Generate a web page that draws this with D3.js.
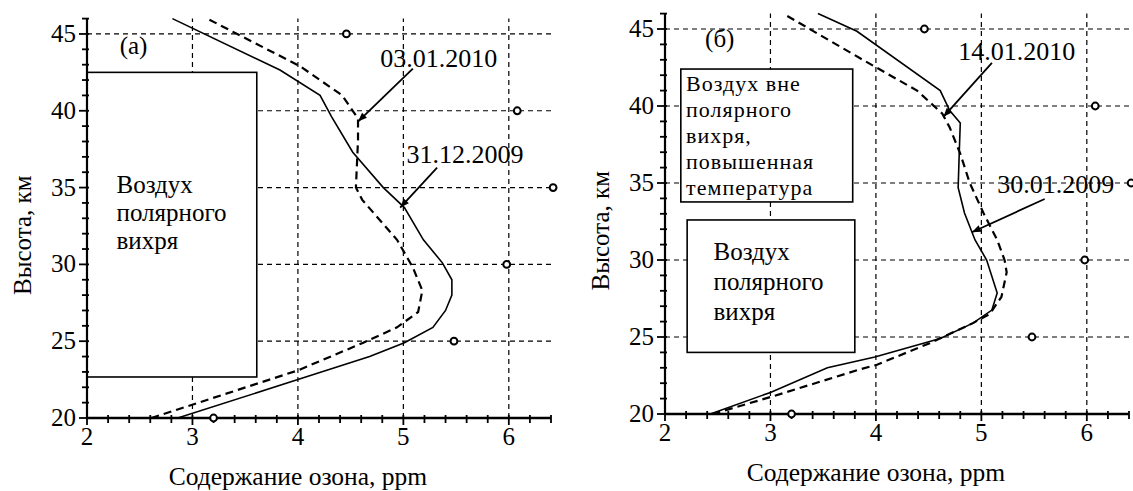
<!DOCTYPE html>
<html><head><meta charset="utf-8">
<script src="https://cdn.jsdelivr.net/npm/d3@7"></script>
<style>
html,body{margin:0;padding:0;background:#fff;}
svg{display:block;}
</style></head>
<body>
<svg id="c" width="1133" height="491"></svg>
<script>
// ---------- data ----------
const xTicks = [2, 3, 4, 5, 6];
const yTicks = [20, 25, 30, 35, 40, 45];
const xTitle = "Содержание озона, ppm";
const yTitle = "Высота, км";

// climatology points (open circles), same in both panels
const climO3 = [3.2, 5.48, 5.98, 6.42, 6.08, 4.46];
const climH  = [20, 25, 30, 35, 40, 45];

// panel (а)
const a_solidO3 = [2.86, 4.0, 4.68, 5.01, 5.28, 5.40, 5.46, 5.46, 5.37, 5.19, 5.01, 4.81, 4.52, 4.32, 4.21, 3.83, 2.81];
const a_solidH  = [20, 22.5, 24.0, 24.9, 25.9, 27.0, 28.0, 29.0, 30.1, 31.6, 33.7, 35.0, 37.3, 39.6, 41.0, 42.65, 46];
const a_dashO3  = [2.61, 4.0, 4.62, 4.94, 5.14, 5.18, 5.09, 4.94, 4.61, 4.55, 4.57, 4.57, 4.42, 4.02, 3.14];
const a_dashH   = [20, 23.1, 24.9, 25.9, 26.9, 28.3, 29.8, 31.6, 34.2, 35.0, 38.1, 39.5, 41.0, 42.9, 46];

// panel (б)
const b_solidO3 = [2.43, 3.0, 3.54, 3.99, 4.61, 4.92, 5.10, 5.15, 5.05, 4.94, 4.84, 4.78, 4.79, 4.80, 4.70, 4.61, 3.82, 3.45];
const b_solidH  = [20, 21.4, 23.0, 23.7, 24.9, 25.9, 26.75, 27.85, 30.0, 31.3, 33.05, 34.7, 36.9, 38.9, 39.7, 41.0, 44.85, 46];
const b_dashO3  = [2.45, 3.0, 3.85, 4.01, 4.51, 4.92, 5.08, 5.19, 5.24, 5.22, 5.15, 5.02, 4.89, 4.80, 4.70, 4.63, 4.39, 3.85, 3.12];
const b_dashH   = [20, 21.1, 22.9, 23.2, 24.6, 25.9, 26.5, 27.6, 29.2, 30.0, 31.3, 33.05, 35.0, 36.9, 38.6, 39.5, 41.0, 43.1, 46];

// ---------- drawing ----------
const svg = d3.select("#c");
const FONT = "Liberation Serif";

function drawPanel(cfg) {
  const x = d3.scaleLinear().domain([2, 6.4]).range(cfg.xr);
  const y = d3.scaleLinear().domain([20, 46]).range(cfg.yr);
  const g = svg.append("g");
  const X0 = x(2), X1 = x(6.4), Y0 = y(20), Y1 = y(46);
  const txt = (sel) => sel.append("text").attr("font-family", FONT).attr("fill", "#000");

  // grid
  g.selectAll(".gx").data(xTicks.filter(t => t > 2)).join("line")
    .attr("x1", d => x(d)).attr("x2", d => x(d)).attr("y1", Y0).attr("y2", Y1)
    .attr("stroke", "#000").attr("stroke-width", 1.2).attr("stroke-dasharray", "5,4");
  g.selectAll(".gy").data(yTicks.filter(t => t > 20)).join("line")
    .attr("y1", d => y(d)).attr("y2", d => y(d)).attr("x1", X0).attr("x2", X1)
    .attr("stroke", "#000").attr("stroke-width", 1.2).attr("stroke-dasharray", "5,4");

  // boxes
  cfg.boxes.forEach(b => {
    g.append("rect")
      .attr("x", x(b.v0)).attr("y", y(b.h0))
      .attr("width", x(b.v1) - x(b.v0)).attr("height", y(b.h1) - y(b.h0))
      .attr("fill", "#fff").attr("stroke", "#000").attr("stroke-width", 1.6);
    const t = txt(g).attr("font-size", b.fs).attr("letter-spacing", b.ls || 0);
    b.lines.forEach((ln, i) => {
      t.append("tspan").attr("x", x(b.tv)).attr("y", y(b.th) + i * b.lh).text(ln);
    });
  });

  // curves
  const line = d3.line().x(d => x(d[0])).y(d => y(d[1]));
  const solid = cfg.solidO3.map((v, i) => [v, cfg.solidH[i]]);
  const dash = cfg.dashO3.map((v, i) => [v, cfg.dashH[i]]);
  g.append("path").attr("d", line(solid)).attr("fill", "none")
    .attr("stroke", "#000").attr("stroke-width", 1.6);
  g.append("path").attr("d", line(dash)).attr("fill", "none")
    .attr("stroke", "#000").attr("stroke-width", 2.2).attr("stroke-dasharray", "8,5");

  // axes
  g.append("line").attr("x1", X0).attr("x2", X0).attr("y1", Y0 + 1).attr("y2", Y1)
    .attr("stroke", "#000").attr("stroke-width", 2.2);
  g.append("line").attr("x1", X0 - 1).attr("x2", X1).attr("y1", Y0).attr("y2", Y0)
    .attr("stroke", "#000").attr("stroke-width", 2.6);
  const xMinor = d3.range(0, 23).map(i => 2 + i * 0.2);
  g.selectAll(".tx").data(xMinor).join("line")
    .attr("x1", d => x(d)).attr("x2", d => x(d))
    .attr("y1", Y0 - 3).attr("y2", (d, i) => Y0 + (i % 5 === 0 ? 7 : 5))
    .attr("stroke", "#000").attr("stroke-width", 1.8);
  const yMinor = d3.range(20, 47);
  g.selectAll(".ty").data(yMinor).join("line")
    .attr("y1", d => y(d)).attr("y2", d => y(d))
    .attr("x1", d => X0 - (d % 5 === 0 ? 8 : 5)).attr("x2", X0 + 2)
    .attr("stroke", "#000").attr("stroke-width", 1.8);

  xTicks.forEach(d => {
    txt(g).attr("x", x(d)).attr("y", Y0 + 27).attr("text-anchor", "middle")
      .attr("font-size", 25).text(d);
  });
  yTicks.forEach(d => {
    txt(g).attr("x", X0 - 11).attr("y", y(d) + 8).attr("text-anchor", "end")
      .attr("font-size", 25).text(d);
  });

  txt(g).attr("x", x(4)).attr("y", Y0 + 67).attr("text-anchor", "middle")
    .attr("font-size", 25.5).text(xTitle);
  txt(g).attr("transform", `translate(${X0 - 56},${y(31.9)}) rotate(-90)`)
    .attr("text-anchor", "middle").attr("font-size", 25).text(yTitle);

  // climatology circles
  g.selectAll(".cl").data(climO3.map((v, i) => [v, climH[i]])).join("circle")
    .attr("cx", d => x(d[0])).attr("cy", d => y(d[1])).attr("r", 3.4)
    .attr("fill", "#fff").attr("stroke", "#000").attr("stroke-width", 2);

  // panel label
  txt(g).attr("x", x(cfg.label.v)).attr("y", y(cfg.label.h))
    .attr("font-size", 25).text(cfg.label.t);

  // annotations
  cfg.notes.forEach(n => {
    txt(g).attr("x", x(n.tv)).attr("y", y(n.th)).attr("font-size", 26).text(n.t);
    const x1 = x(n.v0), y1 = y(n.h0), x2 = x(n.v1), y2 = y(n.h1);
    g.append("line").attr("x1", x1).attr("y1", y1).attr("x2", x2).attr("y2", y2)
      .attr("stroke", "#000").attr("stroke-width", 1.8);
    const ang = Math.atan2(y2 - y1, x2 - x1);
    const L = 9, W = 3.5;
    const bx = x2 - L * Math.cos(ang), by = y2 - L * Math.sin(ang);
    const px = -Math.sin(ang) * W, py = Math.cos(ang) * W;
    g.append("path").attr("d", `M${x2},${y2}L${bx + px},${by + py}L${bx - px},${by - py}Z`)
      .attr("fill", "#000");
  });
}

drawPanel({
  xr: [87, 551], yr: [418, 18.6],
  solidO3: a_solidO3, solidH: a_solidH, dashO3: a_dashO3, dashH: a_dashH,
  boxes: [
    { v0: 2, v1: 3.61, h0: 42.5, h1: 22.67, tv: 2.28, th: 34.65, lh: 28, fs: 25,
      lines: ["Воздух", "полярного", "вихря"] }
  ],
  label: { t: "(а)", v: 2.31, h: 43.7 },
  notes: [
    { t: "03.01.2010", tv: 4.78, th: 42.85, v0: 5.09, h0: 42.75, v1: 4.57, h1: 39.3 },
    { t: "31.12.2009", tv: 5.03, th: 36.6, v0: 5.32, h0: 36.3, v1: 4.97, h1: 33.7 }
  ]
});

drawPanel({
  xr: [665, 1129], yr: [414, 13.6],
  solidO3: b_solidO3, solidH: b_solidH, dashO3: b_dashO3, dashH: b_dashH,
  boxes: [
    { v0: 2.15, v1: 3.78, h0: 42.4, h1: 33.77, tv: 2.2, th: 41.0, lh: 26, fs: 22, ls: 1.0,
      lines: ["Воздух вне", "полярного", "вихря,", "повышенная", "температура"] },
    { v0: 2.21, v1: 3.80, h0: 32.6, h1: 24.0, tv: 2.46, th: 29.99, lh: 30, fs: 25,
      lines: ["Воздух", "полярного", "вихря"] }
  ],
  label: { t: "(б)", v: 2.38, h: 43.85 },
  notes: [
    { t: "14.01.2010", tv: 4.78, th: 43.0, v0: 5.10, h0: 42.8, v1: 4.64, h1: 39.3 },
    { t: "30.01.2009", tv: 5.15, th: 34.35, v0: 5.60, h0: 33.96, v1: 4.91, h1: 31.8 }
  ]
});
</script>
</body></html>
